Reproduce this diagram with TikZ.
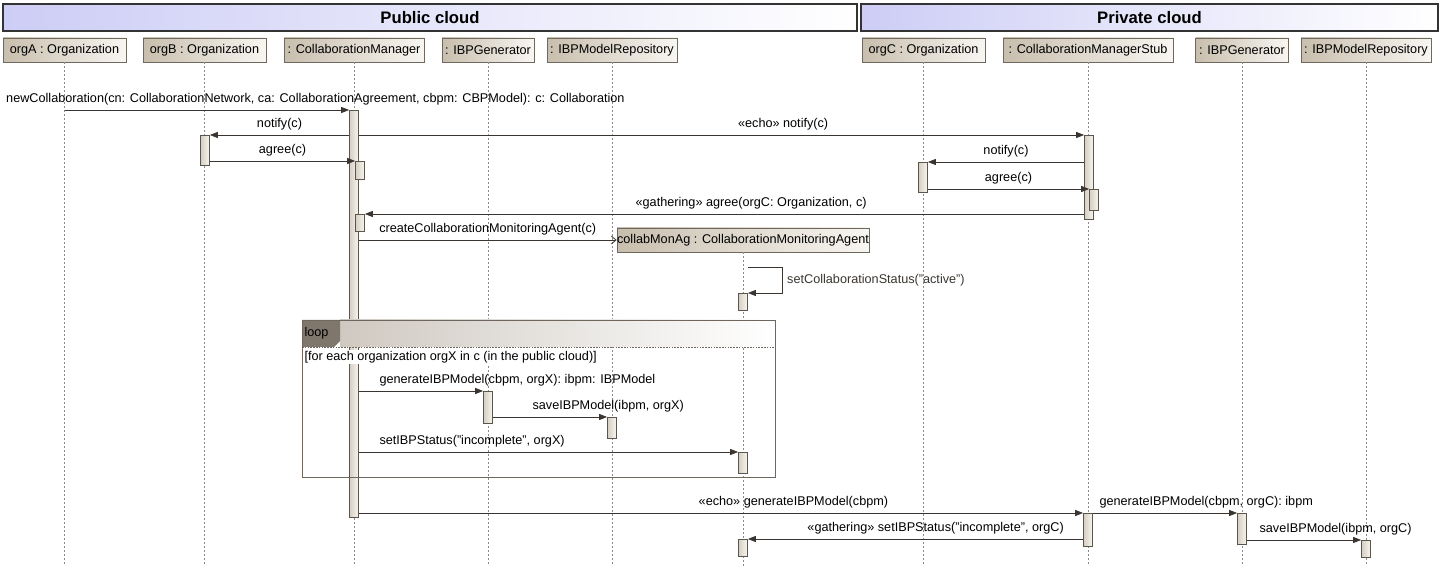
\documentclass[tikz,border=0pt]{standalone}
\usepackage{fontspec}
\setmainfont{Liberation Sans}
\usepackage{tikz}
\usetikzlibrary{arrows.meta, calc}
\definecolor{ink}{HTML}{3A3530}
\definecolor{lavender}{HTML}{CDCDF6}
\definecolor{headtan}{HTML}{C8BEAD}
\definecolor{paper}{HTML}{F8F6F2}
\definecolor{lifegray}{HTML}{8A8A8A}
\definecolor{framegray}{HTML}{6F675D}
\definecolor{tabgray}{HTML}{7F766C}
\definecolor{bandgray}{HTML}{CFC9C1}

\begin{document}
\begin{tikzpicture}[
    x=0.75pt, y=-0.75pt,
    font=\fontsize{9.5}{11}\selectfont,
    cloudbar/.style={
        draw=black!80, line width=0.8pt,
        left color=lavender, right color=white,
        font=\fontsize{12.5}{14}\selectfont\bfseries,
        inner sep=0pt, minimum height=20.25pt,
    },
    lifehead/.style={
        draw=headtan!55!black, line width=0.6pt,
        left color=headtan, right color=paper,
        inner sep=0pt, minimum height=18pt,
    },
    lifeline/.style={lifegray, line width=0.5pt, dash pattern=on 1.5pt off 1.5pt},
    act/.style={
        draw=headtan!45!black, line width=0.5pt,
        left color=headtan!75, right color=paper,
        inner sep=0pt, minimum width=6.75pt, anchor=north,
    },
    msg/.style={ink, line width=0.6pt, -{Triangle[length=6pt, width=4.5pt]}},
    create/.style={ink, line width=0.6pt, -{Straight Barb[length=3.5pt, width=6pt]}},
    lbl/.style={text=black, inner sep=1pt, yshift=2pt},
]
\useasboundingbox (0,0) rectangle (1450,566);
\coordinate (bottom) at (0,566);

% =============================================
% CLOUD HEADERS
% =============================================
\node[cloudbar, minimum width=640.5pt] (publicCloud) at (430,17.5) {Public cloud};
\node[cloudbar, minimum width=432.75pt] (privateCloud) at (1149.5,17.5) {Private cloud};

% =============================================
% LIFELINE HEADS
% =============================================
% public side
\node[lifehead, minimum width=92.25pt] (orgA) at (64.5,50) {orgA : Organization};
\node[lifehead, minimum width=92.25pt] (orgB) at (204.5,50) {orgB : Organization};
\node[lifehead, minimum width=105pt]   (colMgr) at (354,50) {: CollaborationManager};
\node[lifehead, minimum width=69pt]    (genPub) at (488,50) {: IBPGenerator};
\node[lifehead, minimum width=97.5pt]  (repoPub) at (612,50) {: IBPModelRepository};
% private side
\node[lifehead, minimum width=92.25pt] (orgC) at (923.5,50) {orgC : Organization};
\node[lifehead, minimum width=127.5pt] (colStub) at (1088,50) {: CollaborationManagerStub};
\node[lifehead, minimum width=69.75pt] (genPriv) at (1242,50) {: IBPGenerator};
\node[lifehead, minimum width=97.5pt]  (repoPriv) at (1366,50) {: IBPModelRepository};
% created later
\node[lifehead, minimum width=189pt]   (monAg) at (743,240) {collabMonAg : CollaborationMonitoringAgent};

% Lifelines
\foreach \h in {orgA, orgB, colMgr, genPub, repoPub, orgC, colStub, genPriv, repoPriv, monAg}
  \draw[lifeline] (\h.south) -- (\h.south |- bottom);

% =============================================
% ACTIVATION BARS
% =============================================
\node[act, minimum height=305.25pt] (aCM)  at (354,110) {};
\node[act, minimum height=22.5pt]   (aB)   at (205,135) {};
\node[act, minimum height=13.5pt]   (aCM2) at (360,161) {};
\node[act, minimum height=12.75pt]  (aCM3) at (360,214) {};
\node[act, minimum height=63pt]     (aS)   at (1089,135) {};
\node[act, minimum height=22.5pt]   (aC)   at (923,162) {};
\node[act, minimum height=15.75pt]  (aS2)  at (1094,189) {};
\node[act, minimum height=12.75pt]  (aM1)  at (743,293) {};
\node[act, minimum height=24pt]     (aG)   at (488,391) {};
\node[act, minimum height=15.75pt]  (aR)   at (612,417) {};
\node[act, minimum height=15.75pt]  (aM2)  at (743,452) {};
\node[act, minimum height=24.75pt]  (aS3)  at (1088,513) {};
\node[act, minimum height=12.75pt]  (aM3)  at (743,539) {};
\node[act, minimum height=23.25pt]  (aG2)  at (1242,513) {};
\node[act, minimum height=12.75pt]  (aR2)  at (1366,540) {};

% =============================================
% LOOP FRAGMENT
% =============================================
\shade[left color=bandgray, right color=white] (340,320) rectangle (775,347);
\fill[tabgray] (302,320) -- (340,320) -- (340,341) -- (334,347) -- (302,347) -- cycle;
\draw[framegray, line width=0.7pt] (302,320) rectangle (775,477);
\draw[framegray, line width=0.6pt, dash pattern=on 1.2pt off 0.9pt] (302,347) -- (775,347);
\node[anchor=west, inner sep=1pt] (loopTag) at (303,333) {loop};
\node[anchor=west, inner sep=1pt, fill=white] (loopGuard) at (303,357) {[for each organization orgX in c (in the public cloud)]};

% =============================================
% MESSAGES
% =============================================
\draw[msg] (orgA |- aCM.north) -- (aCM.north west)
  node[lbl, pos=0, anchor=south west, xshift=-45pt] (lNew)
  {newCollaboration(cn: CollaborationNetwork, ca: CollaborationAgreement, cbpm: CBPModel): c: Collaboration};
\draw[msg] (aCM.west |- aB.north) -- (aB.north east)
  node[lbl, midway, anchor=south] (lNotB) {notify(c)};
\draw[msg] (aCM.east |- aS.north) -- (aS.north west)
  node[lbl, pos=0.585, anchor=south] (lEchoNot) {«echo» notify(c)};
\draw[msg] (aB.east |- aCM2.north) -- (aCM2.north west)
  node[lbl, midway, anchor=south] (lAgrB) {agree(c)};
\draw[msg] (aS.west |- aC.north) -- (aC.north east)
  node[lbl, midway, anchor=south] (lNotC) {notify(c)};
\draw[msg] (aC.east |- aS2.north) -- (aS2.north west)
  node[lbl, midway, anchor=south] (lAgrC) {agree(c)};
\draw[msg] (aS.west |- aCM3.north) -- (aCM3.north east)
  node[lbl, pos=0.463, anchor=south] (lGathAgr) {«gathering» agree(orgC: Organization, c)};
\draw[create] (aCM.east |- monAg) -- (monAg.west)
  node[lbl, midway, anchor=south] (lCreate) {createCollaborationMonitoringAgent(c)};

% self call on the agent
\draw[msg] ($(aM1.north east)+(0,-26)$) -- ++(35,0) |- (aM1.north east)
  node[pos=0.25, anchor=west, inner sep=1pt, xshift=2pt] (lActive) {setCollaborationStatus("active")};

% inside the loop
\draw[msg] (aCM.east |- aG.north) -- (aG.north west)
  node[lbl, pos=0, anchor=south west, xshift=14.25pt] (lGenX) {generateIBPModel(cbpm, orgX): ibpm: IBPModel};
\draw[msg] (aG.east |- aR.north) -- (aR.north west)
  node[lbl, pos=0, anchor=south west, xshift=28.5pt] (lSaveX) {saveIBPModel(ibpm, orgX)};
\draw[msg] (aCM.east |- aM2.north) -- (aM2.north west)
  node[lbl, pos=0, anchor=south west, xshift=14.25pt] (lStatX) {setIBPStatus("incomplete", orgX)};

% private cloud round
\draw[msg] (aCM.east |- aS3.north) -- (aS3.north west)
  node[lbl, pos=0.60, anchor=south] (lEchoGen) {«echo» generateIBPModel(cbpm)};
\draw[msg] (aS3.west |- aM3.north) -- (aM3.north east)
  node[lbl, pos=0.44, anchor=south] (lGathStat) {«gathering» setIBPStatus("incomplete", orgC)};
\draw[msg] (aS3.east |- aG2.north) -- (aG2.north west)
  node[lbl, pos=0, anchor=south west, xshift=3.75pt] (lGenC) {generateIBPModel(cbpm, orgC): ibpm};
\draw[msg] (aG2.east |- aR2.north) -- (aR2.north west)
  node[lbl, pos=0, anchor=south west, xshift=8.25pt] (lSaveC) {saveIBPModel(ibpm, orgC)};

\end{tikzpicture}
\end{document}
